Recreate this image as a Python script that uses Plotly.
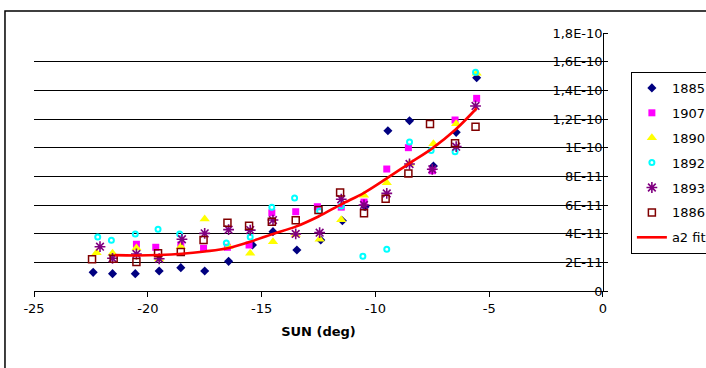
import plotly.graph_objects as go

# ---------------- data (values in units of 1E-11) ----------------
x_1885 = [-22.4, -21.55, -20.55, -19.5, -18.55, -17.5, -16.45, -15.4, -14.5, -13.45, -12.4, -11.45, -10.45, -9.45, -8.5, -7.45, -6.45, -5.55]
y_1885 = [1.30, 1.21, 1.21, 1.40, 1.63, 1.40, 2.07, 3.21, 4.14, 2.86, 3.56, 4.90, 5.88, 11.18, 11.88, 8.72, 11.07, 14.88]

x_1907 = [-20.5, -19.65, -18.55, -17.55, -16.5, -15.55, -14.55, -13.5, -12.55, -11.5, -10.5, -9.5, -8.55, -7.5, -6.5, -5.55]
y_1907 = [3.26, 3.05, 3.21, 2.98, 3.05, 3.21, 5.46, 5.53, 5.88, 5.85, 6.20, 8.51, 10.0, 8.39, 11.93, 13.44]

x_1890 = [-22.25, -21.55, -20.5, -19.5, -18.55, -17.5, -16.45, -15.5, -14.5, -13.5, -12.45, -11.5, -10.5, -9.5, -8.5, -7.45, -6.45, -5.55]
y_1890 = [2.67, 2.63, 3.00, 2.23, 3.09, 5.02, 3.10, 2.63, 3.44, 3.95, 3.61, 4.97, 6.68, 7.55, 8.90, 10.27, 11.67, 15.19]

x_1892 = [-22.2, -21.6, -20.55, -19.55, -18.6, -16.55, -15.5, -14.55, -13.55, -12.45, -11.5, -10.55, -9.5, -8.5, -7.55, -6.5, -5.6]
y_1892 = [3.77, 3.54, 3.98, 4.30, 3.98, 3.35, 3.77, 5.84, 6.49, 5.58, 5.93, 2.42, 2.91, 10.39, 9.81, 9.72, 15.26]

x_1893 = [-22.1, -21.55, -20.5, -19.5, -18.5, -17.5, -16.45, -15.5, -14.5, -13.5, -12.45, -11.5, -10.5, -9.5, -8.5, -7.5, -6.45, -5.6]
y_1893 = [3.09, 2.28, 2.58, 2.25, 3.61, 4.02, 4.28, 4.25, 4.95, 3.98, 4.07, 6.40, 6.00, 6.81, 8.86, 8.49, 10.07, 12.91]

x_1886 = [-22.45, -21.5, -20.5, -19.55, -18.55, -17.55, -16.5, -15.55, -14.55, -13.5, -12.5, -11.55, -10.5, -9.55, -8.55, -7.6, -6.5, -5.6]
y_1886 = [2.21, 2.25, 2.02, 2.63, 2.72, 3.56, 4.77, 4.56, 4.84, 4.93, 5.65, 6.88, 5.43, 6.44, 8.19, 11.65, 10.30, 11.46]

x_fit = [-21.45, -20.5, -19.5, -18.5, -17.5, -16.5, -15.5, -14.5, -13.5, -12.5, -11.5, -10.5, -9.5, -8.5, -7.5, -6.5, -5.55]
y_fit = [2.50, 2.48, 2.51, 2.60, 2.76, 2.98, 3.44, 3.98, 4.49, 5.20, 6.05, 6.85, 7.86, 8.91, 9.95, 11.23, 12.75]

y_tickvals = [0, 2, 4, 6, 8, 10, 12, 14, 16, 18]
y_ticktext = ["0", "2E-11", "4E-11", "6E-11", "8E-11", "1E-10", "1,2E-10", "1,4E-10", "1,6E-10", "1,8E-10"]
x_tickvals = [-25, -20, -15, -10, -5, 0]
x_ticktext = ["-25", "-20", "-15", "-10", "-5", "0"]

UNIT = 1e-11
FONT = "DejaVu Sans, sans-serif"
FS = 13

def sc(v):
    return [a * UNIT for a in v]

fig = go.Figure()

series = [
    ("1885", x_1885, y_1885, dict(symbol="diamond", size=7, color="#000080", line=dict(width=0))),
    ("1907", x_1907, y_1907, dict(symbol="square", size=7, color="#FF00FF", line=dict(width=0))),
    ("1890", x_1890, y_1890, dict(symbol="triangle-up", size=9, color="#FFFF00", line=dict(width=0))),
    ("1892", x_1892, y_1892, dict(symbol="circle-open", size=5, color="#00FFFF", line=dict(width=2, color="#00FFFF"))),
    ("1893", x_1893, y_1893, dict(symbol="asterisk-open", size=9, color="#800080", line=dict(width=1.6, color="#800080"))),
    ("1886", x_1886, y_1886, dict(symbol="square-open", size=7, color="#800000", line=dict(width=1.5, color="#800000"))),
]

for name, xs, ys, mk in series:
    fig.add_trace(go.Scatter(x=xs, y=sc(ys), mode="markers", name=name,
                             marker=mk, legendgroup=name))

fig.add_trace(go.Scatter(x=x_fit, y=sc(y_fit), mode="lines", name="a2 fit",
                         line=dict(color="#FF0000", width=2.6, shape="spline"),
                         legendgroup="fit"))

fig.update_layout(
    width=706, height=368,
    margin=dict(l=34, r=103, t=33, b=77, autoexpand=False),
    paper_bgcolor="white", plot_bgcolor="white",
    font=dict(family=FONT, size=FS, color="black"),
    showlegend=True,
    legend=dict(x=1.049, y=0.849, xanchor="left", yanchor="top",
                bordercolor="black", borderwidth=1, bgcolor="white",
                font=dict(family=FONT, size=FS, color="black"),
                traceorder="grouped", tracegroupgap=5),
    xaxis=dict(range=[-25, 0.001], tickvals=x_tickvals, ticktext=x_ticktext, automargin=False,
               showgrid=False, zeroline=False, showline=True, linecolor="black", linewidth=1,
               ticks="outside", ticklen=5, tickcolor="black", ticklabeloverflow="allow",
               tickfont=dict(family=FONT, size=FS, color="black"),
               title=dict(text="<b>SUN (deg)</b>", font=dict(family=FONT, size=FS, color="black"), standoff=12)),
    yaxis=dict(range=[0, 18 * UNIT], tickvals=sc(y_tickvals), ticktext=y_ticktext, automargin=False,
               side="right", ticklabelposition="inside", ticklabeloverflow="allow",
               showgrid=True, gridcolor="black", gridwidth=1, zeroline=False,
               showline=True, linecolor="black", linewidth=1,
               ticks="outside", ticklen=4, tickcolor="black",
               tickfont=dict(family=FONT, size=FS, color="black")),
    shapes=[dict(type="rect", xref="paper", yref="paper",
                 x0=-0.051, x1=1.3, y0=-0.5, y1=1.085,
                 line=dict(color="black", width=1.5), fillcolor="rgba(0,0,0,0)", layer="below")],
)

fig.write_html("out.html")
